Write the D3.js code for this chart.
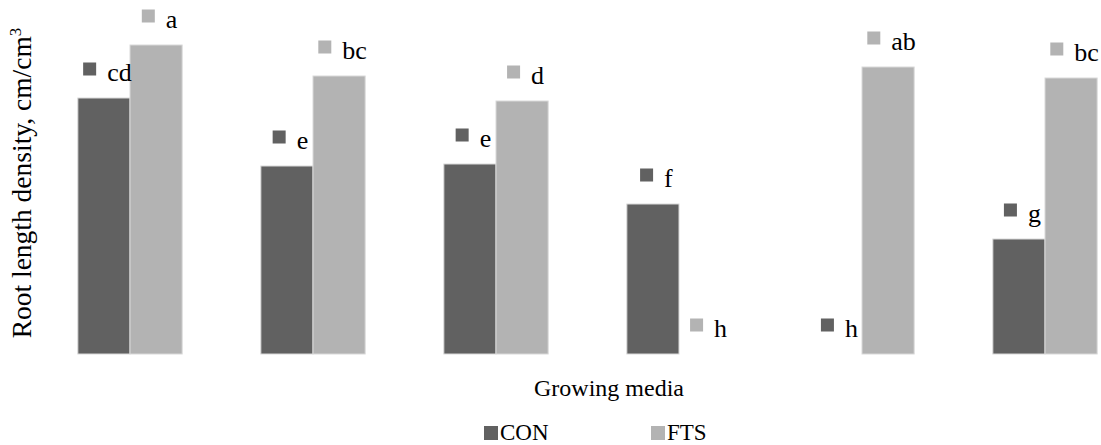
<!DOCTYPE html>
<html>
<head>
<meta charset="utf-8">
<script src="https://cdn.jsdelivr.net/npm/d3@7"></script>
<style>
  html, body { margin: 0; padding: 0; background: #fff; }
  svg { display: block; font-family: "Liberation Serif", "Times New Roman", Times, "DejaVu Serif", "Noto Serif", serif; }
  svg text { fill: #000; }
</style>
</head>
<body>
<svg id="chart" width="1101" height="445"></svg>
<script>
// Data (root length density, cm/cm³; axis has no tick labels)
const groups = ["M1", "M2", "M3", "M4", "M5", "M6"];
const seriesNames = ["CON", "FTS"];
const conValues = [2.56, 1.88, 1.90, 1.50, 0.00, 1.15];
const ftsValues = [3.09, 2.78, 2.53, 0.00, 2.87, 2.76];
const conLetters = ["cd", "e", "e", "f", "h", "g"];
const ftsLetters = ["a", "bc", "d", "h", "ab", "bc"];
const colors = { CON: "#616161", FTS: "#b3b3b3" };
const FONT = "Liberation Serif, Times New Roman, Times, DejaVu Serif, Noto Serif, serif";

const svg = d3.select("#chart").attr("font-family", FONT);

const x0 = d3.scaleBand().domain(groups).range([38.5, 1136.5]).paddingInner(0.43).paddingOuter(0.215);
const x1 = d3.scaleBand().domain(seriesNames).range([0, x0.bandwidth()]);
const y = d3.scaleLinear().domain([0, 3.54]).range([354, 0]);

const rows = groups.map((g, i) => ({
  group: g,
  items: [
    { s: "CON", v: conValues[i], lab: conLetters[i] },
    { s: "FTS", v: ftsValues[i], lab: ftsLetters[i] }
  ]
}));

const gGroups = svg.append("g").selectAll("g").data(rows).join("g")
  .attr("transform", d => `translate(${x0(d.group)},0)`);

gGroups.selectAll("rect.bar").data(d => d.items.filter(it => it.v > 0)).join("rect")
  .attr("class", "bar")
  .attr("x", d => x1(d.s))
  .attr("y", d => y(d.v))
  .attr("width", x1.bandwidth())
  .attr("height", d => y(0) - y(d.v))
  .attr("fill", d => colors[d.s])
  .attr("stroke", "#d9d9d9")
  .attr("stroke-width", 1);

// Data labels: legend-key square + letter
const labels = gGroups.selectAll("g.lab").data(d => d.items).join("g").attr("class", "lab");
labels.append("rect")
  .attr("width", 13).attr("height", 13)
  .attr("fill", d => colors[d.s]);
labels.append("text")
  .attr("font-size", 26)
  .text(d => d.lab);
labels.each(function(d) {
  const g = d3.select(this);
  const tw = g.select("text").node().getComputedTextLength();
  const total = 13 + 11 + tw;
  const cx = x1(d.s) + x1.bandwidth() / 2 + 3.5;
  const left = cx - total / 2;
  const top = y(d.v);
  g.select("rect").attr("x", left).attr("y", top - 35.5);
  g.select("text").attr("x", left + 24).attr("y", top - 17);
});

// Axis titles
svg.append("text")
  .attr("transform", "translate(31,183) rotate(-90)")
  .attr("text-anchor", "middle")
  .attr("font-size", 27.5)
  .html("Root length density, cm/cm<tspan dy='-10' font-size='17'>3</tspan>");

svg.append("text")
  .attr("x", 609).attr("y", 396)
  .attr("text-anchor", "middle")
  .attr("font-size", 24)
  .text("Growing media");

// Legend
const legendX = { CON: 484, FTS: 651 };
const leg = svg.append("g").selectAll("g").data(seriesNames).join("g")
  .attr("transform", d => `translate(${legendX[d]},0)`);
leg.append("rect").attr("x", 0).attr("y", 426).attr("width", 14).attr("height", 14).attr("fill", d => colors[d]);
leg.append("text").attr("x", 16).attr("y", 440).attr("font-size", 23).text(d => d);
</script>
</body>
</html>
